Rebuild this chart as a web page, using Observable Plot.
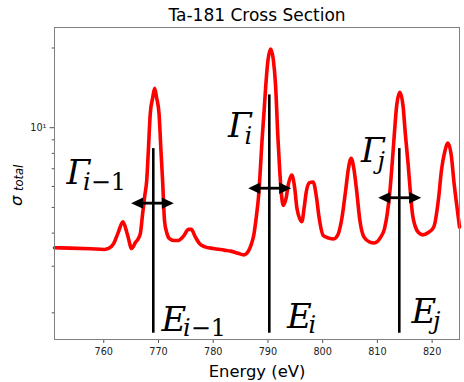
<!DOCTYPE html>
<html>
<head>
<meta charset="utf-8">
<script src="https://cdn.jsdelivr.net/npm/d3@7"></script>
<script src="https://cdn.jsdelivr.net/npm/@observablehq/plot@0.6"></script>
<style>
  html, body { margin: 0; padding: 0; background: #fff; }
  svg { display: block; }
</style>
</head>
<body>
<div id="chart"></div>
<script>
// ---- text ----
const title = "Ta-181 Cross Section";
const xLabel = "Energy (eV)";
const yLabelMain = "σ";
const yLabelSub = "total";

// ---- cross-section curve ----
const energy = [751, 753.9, 757.6, 760.1, 760.9, 761.8, 762.6, 763.5, 764.3, 765.1,
  765.8, 766.3, 766.7, 767.1, 767.5, 767.85, 768.15, 768.5, 768.95, 769.3,
  769.65, 770.1, 770.45, 770.75, 771.1, 771.5, 772.0, 772.8, 773.5, 774.5,
  775.5, 776.0, 776.7, 777.5, 778.5, 780, 782, 783.2, 784.5, 785.6,
  786.5, 787.0, 787.4, 787.9, 788.3, 788.6, 788.9, 789.3, 789.6, 790.0,
  790.5, 791.0, 791.4, 791.8, 792.1, 792.4, 792.8, 793.3, 793.8, 794.35,
  794.9, 795.3, 796.2, 796.6, 797.0, 797.6, 798.25, 798.9, 799.3, 800.1,
  801.1, 802.0, 802.8, 803.5, 804.2, 804.7, 805.2, 805.7, 806.2, 806.8,
  807.5, 808.6, 809.4, 810.6, 811.3, 811.8, 812.3, 812.7, 813.1, 813.5,
  814.1, 814.7, 815.1, 815.6, 816.0, 816.4, 816.9, 817.5, 818.3, 819.3,
  820.3, 821.2, 821.7, 822.3, 822.9, 823.5, 824.0, 824.5, 825.0];
const sigma = [3.52, 3.51, 3.49, 3.47, 3.5, 3.65, 4.0, 4.41, 3.97, 3.5,
  3.69, 3.81, 4.0, 4.73, 5.55, 6.32, 8.21, 11.3, 13.0, 14.1,
  13.0, 11.3, 8.21, 6.32, 4.46, 4.02, 3.81, 3.75, 3.75, 3.88,
  4.13, 4.13, 3.88, 3.65, 3.55, 3.50, 3.45, 3.42, 3.36, 3.31,
  3.44, 3.65, 3.92, 4.65, 5.55, 6.9, 8.83, 11.6, 14.4, 17.96,
  19.8, 17.96, 14.4, 9.35, 7.2, 5.8, 5.09, 5.4, 6.2, 6.63,
  5.9, 4.96, 4.42, 4.96, 5.72, 6.2, 6.24, 5.4, 4.65, 3.92,
  3.83, 3.80, 3.95, 4.54, 5.80, 7.0, 7.67, 7.0, 5.80, 4.46,
  3.88, 3.70, 3.67, 3.86, 4.16, 4.73, 5.80, 7.33, 9.5, 12.0,
  13.6, 12.0, 9.5, 7.33, 5.80, 4.73, 4.25, 4.02, 3.94, 4.02,
  4.22, 5.47, 6.9, 8.1, 8.76, 7.86, 6.2, 5.09, 4.22];

// ---- axis ticks ----
const xTicks = [760, 770, 780, 790, 800, 810, 820];
const yMajorTicks = [10];
const yMajorTickLabels = ["10¹"];
const yMinorTicks = [2, 3, 4, 5, 6, 7, 8, 9, 20];

// ---- resonance annotations ----
const resonanceE = [769.05, 790.25, 814.0];
const resonanceLow = [1.675, 1.675, 1.675];
const resonanceHigh = [8.34, 13.3, 8.34];
const widthArrowY = [5.19, 5.91, 5.44];
const widthArrowStart = [765.0, 786.4, 810.15];
const widthArrowEnd = [772.8, 794.25, 818.0];

const gammaX = [753.19, 782.7, 807.0];
const gammaY = [6.14, 9.22, 7.41];
const energyLabelX = [770.55, 793.48, 816.23];
const energyLabelY = [1.714, 1.755, 1.827];
const subIndex = ["i", "i", "j"];
const subTail = ["−1", "", ""];

// ---- tables built from the arrays ----
const curve = energy.map((e, k) => ({e, s: sigma[k]}));
const lines = resonanceE.map((e, k) => ({e, lo: resonanceLow[k], hi: resonanceHigh[k]}));
const arrows = widthArrowY.map((y, k) => ({y, x1: widthArrowStart[k], x2: widthArrowEnd[k]}));
const gammaLabels = gammaX.map((x, k) => ({x, y: gammaY[k], main: "Γ", sub: subIndex[k], tail: subTail[k]}));
const eLabels = energyLabelX.map((x, k) => ({x, y: energyLabelY[k], main: "E", sub: subIndex[k], tail: subTail[k]}));

// ---- arrowhead symbols (tip at origin) ----
const headRight = {draw(ctx, size) {
  const r = Math.sqrt(size / Math.PI), L = 2 * r, H = 0.95 * r;
  ctx.moveTo(0, 0); ctx.lineTo(-L, -H); ctx.lineTo(-L, H); ctx.closePath();
}};
const headLeft = {draw(ctx, size) {
  const r = Math.sqrt(size / Math.PI), L = 2 * r, H = 0.95 * r;
  ctx.moveTo(0, 0); ctx.lineTo(L, -H); ctx.lineTo(L, H); ctx.closePath();
}};

const sans = "DejaVu Sans";
const serif = "DejaVu Serif";
const mathMain = {fontFamily: serif, fontStyle: "italic", fontSize: 34, textAnchor: "start", lineAnchor: "bottom", fill: "black"};

const chart = Plot.plot({
  width: 464,
  height: 382,
  marginLeft: 54,
  marginRight: 5,
  marginTop: 27,
  marginBottom: 43,
  style: {background: "white", fontFamily: sans, overflow: "visible"},
  x: {domain: [751, 825], label: null},
  y: {type: "log", domain: [1.586, 23.9], label: null},
  marks: [
    Plot.axisX({ticks: xTicks, tickSize: 4, tickPadding: 5, label: null, fontSize: 9.7, fontFamily: sans, stroke: "#555", fill: "#222", tickFormat: d => String(d)}),
    Plot.axisY({ticks: yMajorTicks, tickSize: 4.5, tickPadding: 3.5, label: null, fontSize: 9.7, fontFamily: sans, stroke: "#555", fill: "#222", tickFormat: d => yMajorTickLabels[yMajorTicks.indexOf(+d)] ?? ""}),
    Plot.axisY({ticks: yMinorTicks, tickSize: 2.3, label: null, stroke: "#555", tickFormat: () => ""}),
    Plot.line(curve, {x: "e", y: "s", stroke: "#ff0000", strokeWidth: 3.6, curve: "monotone-x"}),
    Plot.ruleX(lines, {x: "e", y1: "lo", y2: "hi", stroke: "black", strokeWidth: 2.6}),
    Plot.ruleY(arrows, {y: "y", x1: "x1", x2: "x2", insetLeft: 6, insetRight: 6, stroke: "black", strokeWidth: 2.8}),
    Plot.dot(arrows, {x: "x2", y: "y", symbol: headRight, r: 6, fill: "black", stroke: "none"}),
    Plot.dot(arrows, {x: "x1", y: "y", symbol: headLeft, r: 6, fill: "black", stroke: "none"}),
    Plot.text(gammaLabels, {x: "x", y: "y", text: "main", ...mathMain}),
    Plot.text(eLabels, {x: "x", y: "y", text: "main", ...mathMain}),
    Plot.frame({stroke: "#808080", strokeWidth: 1}),
    Plot.text([title], {frameAnchor: "top", dy: -7, lineAnchor: "bottom", text: d => d, fontSize: 17, fontFamily: sans, fill: "black"}),
    Plot.text([xLabel], {frameAnchor: "bottom", dy: 37, lineAnchor: "bottom", text: d => d, fontSize: 16.4, fontFamily: sans, fill: "black"}),
    Plot.text([yLabelMain], {frameAnchor: "left", rotate: -90, textAnchor: "start", lineAnchor: "bottom", dx: -33, dy: 22.5, text: d => d, fontSize: 16.5, fontStyle: "italic", fontFamily: sans, fill: "black"})
  ]
});
document.getElementById("chart").appendChild(chart);

// ---- subscripts as tspans inside the same text element ----
function addSubscripts(mainText, items, subOffset, subDy, subSize) {
  const nodes = Array.from(chart.querySelectorAll("text")).filter(t => t.textContent === mainText);
  nodes.forEach((node, k) => {
    const it = items[k];
    if (!it) return;
    const w = node.getComputedTextLength();
    const sub = d3.select(node).append("tspan")
      .attr("font-size", subSize).attr("dx", subOffset - w).attr("dy", subDy).text(it.sub);
    if (it.tail) d3.select(node).append("tspan")
      .attr("font-size", subSize).attr("font-style", "normal").text(it.tail);
  });
}
addSubscripts("Γ", gammaLabels, 16.5, 6.5, 24);
addSubscripts("E", eLabels, 21.5, 5.5, 24);
addSubscripts(yLabelMain, [{sub: yLabelSub, tail: ""}], 15, 1.5, 11.5);
</script>
</body>
</html>
